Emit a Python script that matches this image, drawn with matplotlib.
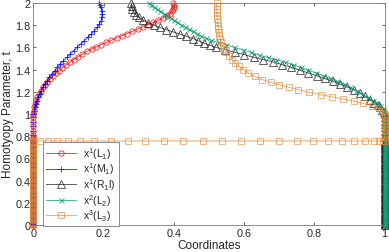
import matplotlib
matplotlib.use('Agg')
import matplotlib.pyplot as plt

plt.rcParams['font.family'] = ['Liberation Sans', 'DejaVu Sans']
plt.rcParams['mathtext.fontset'] = 'custom'

# points sitting on the x=0 / x=1 edges (t values)
t_edge_low = [0.00, 0.01, 0.02, 0.03, 0.04, 0.05, 0.06, 0.07, 0.08, 0.09, 0.10, 0.11, 0.12,
              0.13, 0.14, 0.15, 0.16, 0.17, 0.18, 0.19, 0.20, 0.21, 0.22, 0.23, 0.24, 0.25,
              0.26, 0.27, 0.28, 0.29, 0.30, 0.31, 0.32, 0.33, 0.34, 0.35, 0.36, 0.37, 0.38,
              0.39, 0.40, 0.41, 0.42, 0.43, 0.44, 0.45, 0.46, 0.47, 0.48, 0.49, 0.50, 0.51,
              0.52, 0.53, 0.54, 0.55, 0.56, 0.57, 0.58, 0.59, 0.60, 0.61, 0.62, 0.63, 0.64,
              0.65, 0.66, 0.67, 0.68, 0.69, 0.70, 0.71, 0.72, 0.73, 0.74, 0.75, 0.757]
t_edge_high = [0.79, 0.82, 0.85, 0.88, 0.91, 0.94, 0.97]
t_left_sparse = [0.78, 0.81, 0.85, 0.89, 0.93, 0.97]

# x^1(L1) curve (x, t)
red_x = [0.000, 0.001, 0.003, 0.005, 0.008, 0.012, 0.016, 0.021, 0.027, 0.033, 0.040, 0.048,
         0.056, 0.064, 0.073, 0.083, 0.093, 0.104, 0.115, 0.127, 0.140, 0.153, 0.166, 0.180,
         0.194, 0.208, 0.222, 0.237, 0.252, 0.267, 0.282, 0.297, 0.312, 0.327, 0.342, 0.356,
         0.369, 0.380, 0.389, 0.395, 0.399, 0.401, 0.401, 0.399]
red_t = [1.00, 1.03, 1.06, 1.09, 1.12, 1.15, 1.18, 1.21, 1.24, 1.265, 1.29, 1.315, 1.34, 1.365,
         1.39, 1.415, 1.44, 1.465, 1.49, 1.515, 1.54, 1.565, 1.585, 1.605, 1.625, 1.645, 1.665,
         1.685, 1.705, 1.725, 1.745, 1.765, 1.785, 1.805, 1.825, 1.845, 1.865, 1.885, 1.905,
         1.925, 1.945, 1.965, 1.985, 2.00]

# x^1(M1)
blue_x = [0.000, 0.002, 0.004, 0.007, 0.010, 0.014, 0.018, 0.023, 0.028, 0.034, 0.040, 0.046,
          0.053, 0.061, 0.069, 0.077, 0.086, 0.096, 0.105, 0.115, 0.125, 0.135, 0.145, 0.155,
          0.165, 0.174, 0.182, 0.188, 0.193, 0.195, 0.196, 0.195, 0.192, 0.189, 0.186]
blue_t = [1.00, 1.03, 1.06, 1.09, 1.12, 1.15, 1.18, 1.21, 1.24, 1.27, 1.30, 1.33, 1.36, 1.39,
          1.42, 1.45, 1.48, 1.51, 1.54, 1.57, 1.60, 1.63, 1.66, 1.69, 1.72, 1.75, 1.78, 1.81,
          1.84, 1.87, 1.90, 1.93, 1.96, 1.98, 2.00]

# x^1(R1 l)
black_x = [1.000, 0.998, 0.994, 0.988, 0.980, 0.970, 0.958, 0.944, 0.929, 0.912, 0.893, 0.873,
           0.852, 0.830, 0.807, 0.783, 0.759, 0.734, 0.708, 0.682, 0.655, 0.628, 0.601, 0.574,
           0.547, 0.520, 0.502, 0.485, 0.470, 0.455, 0.436, 0.417, 0.398, 0.379, 0.360, 0.343,
           0.327, 0.313, 0.301, 0.292, 0.286, 0.282, 0.280, 0.279]
black_t = [1.00, 1.02, 1.04, 1.06, 1.08, 1.10, 1.13, 1.16, 1.19, 1.22, 1.245, 1.27, 1.295, 1.32,
           1.345, 1.37, 1.395, 1.42, 1.445, 1.47, 1.49, 1.51, 1.535, 1.555, 1.58, 1.60, 1.62,
           1.64, 1.66, 1.68, 1.70, 1.72, 1.74, 1.76, 1.78, 1.80, 1.82, 1.845, 1.87, 1.895, 1.92,
           1.95, 1.975, 2.00]

# x^2(L2)
green_x = [1.000, 0.999, 0.995, 0.988, 0.978, 0.966, 0.952, 0.937, 0.920, 0.902, 0.884, 0.865,
           0.845, 0.825, 0.804, 0.783, 0.761, 0.739, 0.716, 0.692, 0.668, 0.644, 0.620, 0.596,
           0.572, 0.549, 0.526, 0.506, 0.491, 0.477, 0.466, 0.455, 0.444, 0.433, 0.421, 0.410,
           0.400, 0.391, 0.382, 0.372, 0.362, 0.353, 0.344, 0.336, 0.330]
green_t = [1.00, 1.02, 1.045, 1.07, 1.095, 1.12, 1.15, 1.18, 1.21, 1.24, 1.27, 1.295, 1.32,
           1.345, 1.37, 1.395, 1.42, 1.445, 1.47, 1.49, 1.51, 1.53, 1.555, 1.58, 1.60, 1.625,
           1.645, 1.665, 1.685, 1.705, 1.725, 1.745, 1.765, 1.785, 1.805, 1.825, 1.845, 1.865,
           1.885, 1.905, 1.925, 1.945, 1.965, 1.985, 2.00]

# x^3(L3): horizontal jump at t = 0.757, then curve
orange_jump_x = [0.0, 0.018, 0.042, 0.068, 0.099, 0.134, 0.174, 0.220, 0.269, 0.317, 0.371,
                 0.426, 0.483, 0.537, 0.591, 0.646, 0.700, 0.751, 0.797, 0.840, 0.880, 0.914,
                 0.943, 0.969, 0.983, 0.997, 1.0]
orange_jump_t = 0.757
orange_up_t = [0.79, 0.82, 0.85, 0.88, 0.91, 0.94, 0.97]
orange_x = [1.000, 0.997, 0.985, 0.965, 0.940, 0.912, 0.882, 0.850, 0.818, 0.786, 0.755, 0.727,
            0.700, 0.676, 0.652, 0.630, 0.612, 0.598, 0.586, 0.575, 0.566, 0.557, 0.550, 0.544,
            0.539, 0.535, 0.532, 0.530, 0.528, 0.527, 0.526, 0.525, 0.524, 0.523, 0.523, 0.522,
            0.522, 0.522]
orange_t = [1.00, 1.025, 1.05, 1.075, 1.095, 1.115, 1.135, 1.155, 1.175, 1.195, 1.22, 1.24,
            1.265, 1.285, 1.31, 1.34, 1.37, 1.40, 1.43, 1.46, 1.49, 1.525, 1.555, 1.585, 1.615,
            1.645, 1.675, 1.705, 1.735, 1.765, 1.795, 1.825, 1.855, 1.885, 1.915, 1.945, 1.975,
            2.00]

# assemble full paths
red_path_x = [0.0] * len(t_edge_low) + [0.0] * len(t_left_sparse) + red_x
red_path_t = t_edge_low + t_left_sparse + red_t
blue_path_x = [0.0] * len(t_edge_low) + [0.0] * len(t_left_sparse) + blue_x
blue_path_t = t_edge_low + t_left_sparse + blue_t
black_path_x = [1.0] * len(t_edge_low) + [1.0] * len(t_edge_high) + black_x
black_path_t = t_edge_low + t_edge_high + black_t
green_path_x = [1.0] * len(t_edge_low) + [1.0] * len(t_edge_high) + green_x
green_path_t = t_edge_low + t_edge_high + green_t
orange_path_x = [0.0] * len(t_edge_low) + orange_jump_x + [1.0] * len(orange_up_t) + orange_x
orange_path_t = t_edge_low + [orange_jump_t] * len(orange_jump_x) + orange_up_t + orange_t

fig = plt.figure(figsize=(3.89, 2.53), dpi=100)
ax = fig.add_axes([0.0855, 0.107, 0.903, 0.877])

ax.plot(red_path_x, red_path_t, '-o', color='#ff0000', lw=0.6, ms=3.8, mfc='none', mew=0.6,
        alpha=0.85, label=r'$\mathregular{x^1(L_1)}$', clip_on=False)
ax.plot(blue_path_x, blue_path_t, '-+', color='#0000ff', lw=0.6, ms=4.5, mew=0.6,
        alpha=0.85, label=r'$\mathregular{x^1(M_1)}$', clip_on=False)
ax.plot(black_path_x, black_path_t, '-^', color='#222222', lw=0.6, ms=5.2, mfc='none', mew=0.6,
        alpha=0.85, label=r'$\mathregular{x^1(R_1l)}$', clip_on=False)
ax.plot(green_path_x, green_path_t, '-x', color='#0a9e72', lw=0.6, ms=3.6, mew=0.7,
        alpha=0.85, label=r'$\mathregular{x^2(L_2)}$', clip_on=False)
ax.plot(orange_path_x, orange_path_t, '-s', color='#e08a3c', lw=0.8, ms=3.8, mfc='none', mew=0.7,
        alpha=0.65, label=r'$\mathregular{x^3(L_3)}$', clip_on=False)

ax.set_xlim(0, 1)
ax.set_ylim(0, 2)
ax.set_xticks([0, 0.2, 0.4, 0.6, 0.8, 1])
ax.set_xticklabels(['0', '0.2', '0.4', '0.6', '0.8', '1'])
ax.set_yticks([0, 0.2, 0.4, 0.6, 0.8, 1, 1.2, 1.4, 1.6, 1.8, 2])
ax.set_yticklabels(['0', '0.2', '0.4', '0.6', '0.8', '1', '1.2', '1.4', '1.6', '1.8', '2'])
ax.tick_params(direction='in', length=2.5, width=0.5, labelsize=7.8, colors='#262626',
               top=True, right=True, pad=2)
for s in ax.spines.values():
    s.set_color('#7a7a7a')
    s.set_linewidth(0.6)

ax.set_xlabel('Coordinates', fontsize=8.5, color='#262626', labelpad=1)
ax.set_ylabel('Homotyopy Parameter, t', fontsize=8.5, color='#262626', labelpad=1)

leg = ax.legend(loc='lower left', bbox_to_anchor=(0.027, -0.006), borderaxespad=0,
                fontsize=7.5, frameon=True, fancybox=False, edgecolor='#7a7a7a',
                framealpha=1, handlelength=2.9, labelspacing=-0.02, handletextpad=0.7,
                borderpad=0.3)
leg.get_frame().set_linewidth(0.6)
for txt in leg.get_texts():
    txt.set_color('#262626')

fig.savefig('out.png', dpi=100)
